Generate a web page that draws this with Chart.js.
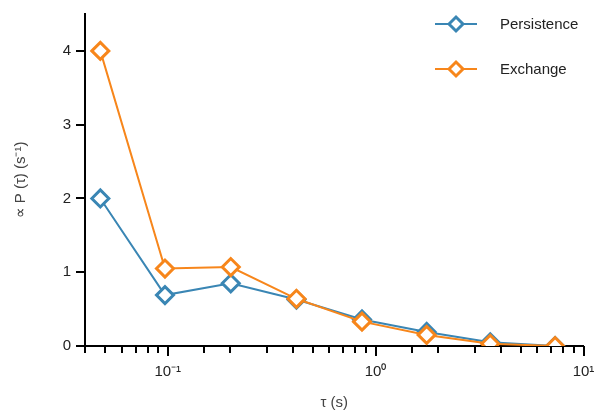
<!DOCTYPE html>
<html>
<head>
<meta charset="utf-8">
<script src="https://cdn.jsdelivr.net/npm/chart.js@4"></script>
<style>
  html, body { margin: 0; padding: 0; background: #fff; }
  #wrap { width: 595px; height: 412px; }
</style>
</head>
<body>
<div id="wrap"><canvas id="chart" width="595" height="412"></canvas></div>
<script>
// values
const tau = [0.0474, 0.097, 0.201, 0.416, 0.86, 1.76, 3.56, 7.3];
const persistence = [2.0, 0.69, 0.85, 0.63, 0.36, 0.19, 0.05, 0.0];
const exchange = [4.0, 1.05, 1.07, 0.64, 0.33, 0.15, 0.03, 0.0];
const seriesNames = ['Persistence', 'Exchange'];
const seriesColors = ['#3a86b4', '#f7861b'];
const yTicks = [0, 1, 2, 3, 4];
const xLabels = { '-1': '10\u207B\u00B9', '0': '10\u2070', '1': '10\u00B9' };

const FONT = 'Liberation Sans, Arial, sans-serif';

function toPoints(ys) {
    return ys.map((y, i) => ({ x: tau[i], y: y }));
}

// custom legend: line with diamond marker, text to the right
const legendPlugin = {
    id: 'lineLegend',
    afterDraw(chart) {
        const ctx = chart.ctx;
        ctx.save();
        seriesNames.forEach((name, i) => {
            const y = 24 + i * 45;
            ctx.strokeStyle = seriesColors[i];
            ctx.lineWidth = 2;
            ctx.beginPath();
            ctx.moveTo(435, y);
            ctx.lineTo(477, y);
            ctx.stroke();
            ctx.fillStyle = '#fff';
            ctx.lineWidth = 3;
            ctx.beginPath();
            ctx.moveTo(456 - 7, y);
            ctx.lineTo(456, y - 7);
            ctx.lineTo(456 + 7, y);
            ctx.lineTo(456, y + 7);
            ctx.closePath();
            ctx.fill();
            ctx.stroke();
            ctx.fillStyle = '#222';
            ctx.font = '15px ' + FONT;
            ctx.textBaseline = 'middle';
            ctx.textAlign = 'left';
            ctx.fillText(name, 500, y + 1);
        });
        ctx.restore();
    }
};

// x tick marks: long for decades, short for the rest
const xTickPlugin = {
    id: 'xTicks',
    afterDraw(chart) {
        const sc = chart.scales.x;
        const ctx = chart.ctx;
        const y0 = chart.chartArea.bottom;
        ctx.save();
        ctx.strokeStyle = '#000';
        ctx.lineWidth = 2;
        sc.ticks.forEach(t => {
            const px = Math.round(sc.getPixelForValue(t.value));
            const major = Math.abs(Math.log10(t.value) - Math.round(Math.log10(t.value))) < 1e-6;
            ctx.beginPath();
            ctx.moveTo(px, y0);
            ctx.lineTo(px, y0 + (major ? 10 : 7));
            ctx.stroke();
        });
        ctx.restore();
    }
};

new Chart(document.getElementById('chart'), {
    type: 'line',
    data: {
        datasets: [
            {
                label: seriesNames[0],
                data: toPoints(persistence),
                borderColor: seriesColors[0],
                backgroundColor: seriesColors[0],
                pointBackgroundColor: '#fff',
                pointBorderColor: seriesColors[0],
                borderWidth: 2,
                pointStyle: 'rectRot',
                pointRadius: 8.5,
                pointBorderWidth: 3,
                order: 1
            },
            {
                label: seriesNames[1],
                data: toPoints(exchange),
                borderColor: seriesColors[1],
                backgroundColor: seriesColors[1],
                pointBackgroundColor: '#fff',
                pointBorderColor: seriesColors[1],
                borderWidth: 2,
                pointStyle: 'rectRot',
                pointRadius: 8.5,
                pointBorderWidth: 3,
                order: 0
            }
        ]
    },
    options: {
        responsive: false,
        animation: false,
        layout: { padding: { top: 12, right: 11, left: 0, bottom: 0 } },
        plugins: {
            legend: { display: false },
            tooltip: { enabled: false }
        },
        scales: {
            x: {
                type: 'logarithmic',
                min: 0.04,
                max: 10,
                grid: { display: false },
                border: { display: true, color: '#000', width: 2 },
                ticks: {
                    autoSkip: false,
                    maxRotation: 0,
                    padding: 9,
                    color: '#222',
                    font: { family: FONT, size: 15 },
                    callback: function (value) {
                        const l = Math.log10(value);
                        if (Math.abs(l - Math.round(l)) < 1e-6) return xLabels[String(Math.round(l))] || '';
                        return '';
                    }
                },
                title: {
                    display: true,
                    text: '\u03C4 (s)',
                    color: '#444',
                    font: { family: FONT, size: 15 },
                    padding: { top: 0, bottom: 0 }
                },
                afterFit: function (scale) {
                    scale.height = 66;
                    scale.paddingRight = 0;
                    scale.paddingLeft = 0;
                }
            },
            y: {
                min: 0,
                max: 4.5,
                grid: {
                    display: true,
                    drawOnChartArea: false,
                    drawTicks: true,
                    tickLength: 9,
                    color: '#000',
                    lineWidth: 2
                },
                border: { display: true, color: '#000', width: 2 },
                afterBuildTicks: function (scale) {
                    scale.ticks = yTicks.map(v => ({ value: v }));
                },
                ticks: {
                    padding: 5,
                    color: '#222',
                    font: { family: FONT, size: 15 }
                },
                title: {
                    display: true,
                    text: '\u221D P (\u03C4) (s\u207B\u00B9)',
                    color: '#444',
                    font: { family: FONT, size: 15 },
                    padding: { top: 12, bottom: 0 }
                },
                afterFit: function (scale) {
                    scale.width = 85;
                }
            }
        }
    },
    plugins: [legendPlugin, xTickPlugin]
});
</script>
</body>
</html>
